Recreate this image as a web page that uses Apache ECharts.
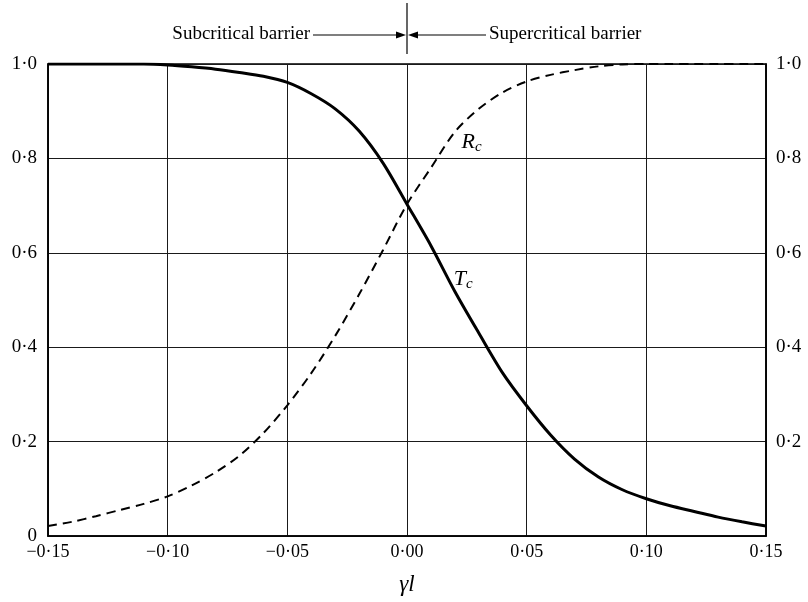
<!DOCTYPE html>
<html>
<head>
<meta charset="utf-8">
<script src="https://cdn.jsdelivr.net/npm/echarts@6/dist/echarts.min.js"></script>
<style>
html,body{margin:0;padding:0;background:#fff;}
#c{width:808px;height:602px;}
</style>
</head>
<body>
<div id="c"></div>
<script>
// gamma*l values
const gammaL = [-0.15,-0.14,-0.13,-0.12,-0.11,-0.10,-0.09,-0.08,-0.07,-0.06,-0.05,-0.04,-0.03,-0.02,-0.01,0.00,
                0.01,0.02,0.03,0.04,0.05,0.06,0.07,0.08,0.09,0.10,0.11,0.12,0.13,0.14,0.15];
// transmission coefficient T_c (solid)
const Tc = [1.0,1.0,1.0,1.0,1.0,0.998,0.994,0.989,0.982,0.974,0.961,0.937,0.905,0.858,0.79,0.703,
            0.615,0.518,0.43,0.345,0.276,0.214,0.163,0.125,0.098,0.079,0.064,0.052,0.040,0.030,0.021];
// reflection coefficient R_c (dashed)
const Rc = [0.021,0.030,0.042,0.055,0.068,0.084,0.107,0.135,0.170,0.218,0.277,0.345,0.424,0.512,0.606,0.703,
            0.78,0.856,0.905,0.940,0.963,0.977,0.987,0.995,0.999,1.0,1.0,1.0,1.0,1.0,1.0];
const xTickLabels = ['\u22120\u00b715','\u22120\u00b710','\u22120\u00b705','0\u00b700','0\u00b705','0\u00b710','0\u00b715'];
const yTickLabelsLeft = ['0','0\u00b72','0\u00b74','0\u00b76','0\u00b78','1\u00b70'];
const yTickLabelsRight = ['','0\u00b72','0\u00b74','0\u00b76','0\u00b78','1\u00b70'];

const FONT = '"Liberation Serif","DejaVu Serif",serif';
const chart = echarts.init(document.getElementById('c'), null, {renderer:'canvas'});

const tcData = gammaL.map((x,i)=>[x,Tc[i]]);
const rcData = gammaL.map((x,i)=>[x,Rc[i]]);

function curveLabel(letter, coord){
  return {symbol:'circle', symbolSize:1, itemStyle:{color:'rgba(0,0,0,0)'}, silent:true,
    data:[{coord:coord, value:letter,
      label:{show:true, position:'inside', formatter:'{i|'+letter+'}{s|c}', rich:{
        i:{fontFamily:FONT, fontStyle:'italic', fontSize:22, color:'#000'},
        s:{fontFamily:FONT, fontStyle:'italic', fontSize:15, color:'#000', padding:[10,0,0,0]}}}}]};
}

const split = {show:true, lineStyle:{color:'#1a1a1a', width:1}};
const option = {
  animation:false,
  backgroundColor:'#fff',
  grid:{left:48, right:42, top:64, bottom:66, show:true, borderColor:'#000', borderWidth:1.6, backgroundColor:'transparent'},
  xAxis:{
    type:'value', min:-0.15, max:0.15, interval:0.05,
    axisLine:{show:true, onZero:false, lineStyle:{color:'#000', width:1.6}},
    axisTick:{show:false},
    splitLine:split,
    axisLabel:{color:'#000', fontFamily:FONT, fontSize:18, margin:7,
      formatter:v=>xTickLabels[Math.round((v+0.15)/0.05)]},
    name:'\u03b3l', nameLocation:'middle', nameGap:37,
    nameTextStyle:{color:'#000', fontFamily:FONT, fontSize:23, fontStyle:'italic'}
  },
  yAxis:[{
    type:'value', min:0, max:1, interval:0.2, position:'left',
    axisLine:{show:true, onZero:false, lineStyle:{color:'#000', width:1.6}},
    axisTick:{show:false},
    splitLine:split,
    axisLabel:{color:'#000', fontFamily:FONT, fontSize:19, margin:11,
      formatter:v=>yTickLabelsLeft[Math.round(v/0.2)]}
  },{
    type:'value', min:0, max:1, interval:0.2, position:'right',
    axisLine:{show:true, onZero:false, lineStyle:{color:'#000', width:1.6}},
    axisTick:{show:false},
    splitLine:{show:false},
    axisLabel:{color:'#000', fontFamily:FONT, fontSize:19, margin:10,
      formatter:v=>yTickLabelsRight[Math.round(v/0.2)]}
  }],
  series:[{
    name:'Tc', type:'line', data:tcData, showSymbol:false, smooth:0.3,
    lineStyle:{color:'#000', width:3}, clip:true,
    markPoint:curveLabel('T',[0.0235,0.545])
  },{
    name:'Rc', type:'line', data:rcData, showSymbol:false, smooth:0.3,
    lineStyle:{color:'#000', width:2, type:[9,6]}, clip:true,
    markPoint:curveLabel('R',[0.027,0.835])
  }]
};
chart.setOption(option);

// top annotation anchored on gamma*l = 0
const x0 = chart.convertToPixel({xAxisIndex:0}, 0);
const ay = 35;
chart.setOption({
  graphic:[
    {type:'line', shape:{x1:x0, y1:3, x2:x0, y2:54}, style:{stroke:'#000', lineWidth:1.2}},
    {type:'line', shape:{x1:313, y1:ay, x2:x0-8, y2:ay}, style:{stroke:'#000', lineWidth:1.2}},
    {type:'polygon', shape:{points:[[x0-1,ay],[x0-11,ay-3.5],[x0-11,ay+3.5]]}, style:{fill:'#000'}},
    {type:'line', shape:{x1:x0+8, y1:ay, x2:486, y2:ay}, style:{stroke:'#000', lineWidth:1.2}},
    {type:'polygon', shape:{points:[[x0+1,ay],[x0+11,ay-3.5],[x0+11,ay+3.5]]}, style:{fill:'#000'}},
    {type:'text', x:310, y:ay-1, style:{text:'Subcritical barrier', fill:'#000', font:'19px '+FONT, textAlign:'right', textVerticalAlign:'middle'}},
    {type:'text', x:489, y:ay-1, style:{text:'Supercritical barrier', fill:'#000', font:'19px '+FONT, textAlign:'left', textVerticalAlign:'middle'}}
  ]
});
</script>
</body>
</html>
